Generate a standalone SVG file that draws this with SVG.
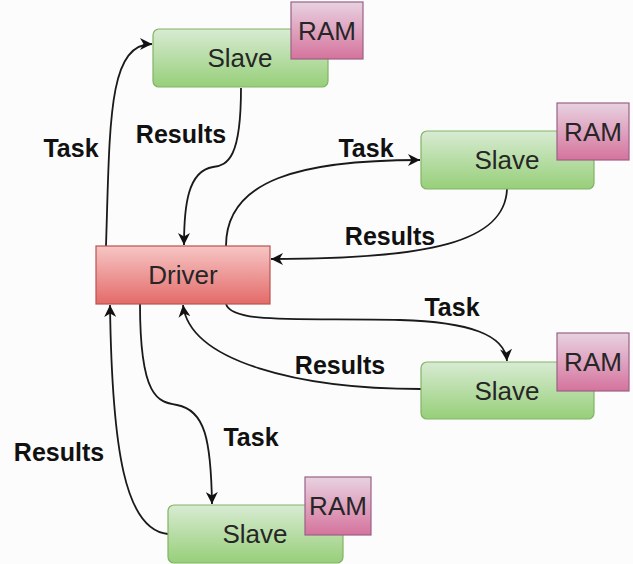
<svg xmlns="http://www.w3.org/2000/svg" width="633" height="564" viewBox="0 0 633 564">
  <defs>
    <linearGradient id="gSlave" x1="0" y1="0" x2="0" y2="1">
      <stop offset="0" stop-color="#d8ebd3"/>
      <stop offset="1" stop-color="#97cf79"/>
    </linearGradient>
    <linearGradient id="gDriver" x1="0" y1="0" x2="0" y2="1">
      <stop offset="0" stop-color="#f6c6c5"/>
      <stop offset="1" stop-color="#e36b69"/>
    </linearGradient>
    <linearGradient id="gRam" x1="0" y1="0" x2="0" y2="1">
      <stop offset="0" stop-color="#e8d2e0"/>
      <stop offset="1" stop-color="#d5739d"/>
    </linearGradient>
    <marker id="arrow" markerUnits="userSpaceOnUse" markerWidth="14" markerHeight="12" refX="12" refY="6" orient="auto">
      <path d="M0,0 L12,6 L0,12 L3.5,6 Z" fill="#111"/>
    </marker>
  </defs>
  <style>
    .slave { fill: url(#gSlave); stroke: #82b366; stroke-width: 1.2; }
    .driver { fill: url(#gDriver); stroke: #b85450; stroke-width: 1.2; }
    .ram { fill: url(#gRam); stroke: #996185; stroke-width: 1.2; }
    .nodeText { font-family: "Liberation Sans", Arial, sans-serif; font-size: 26px; fill: #262626; text-anchor: middle; dominant-baseline: central; }
    .label { font-family: "Liberation Sans", Arial, sans-serif; font-size: 25px; font-weight: bold; fill: #111; text-anchor: middle; dominant-baseline: central; }
    .edge { fill: none; stroke: #1a1a1a; stroke-width: 1.8; marker-end: url(#arrow); }
  </style>

  <rect x="0" y="0" width="633" height="564" fill="#fcfcfc"/>

  <g id="connectors">
    <!-- driver -> top slave -->
    <path class="edge" d="M106,246 C110,120 108,44 152,44"/>
    <!-- top slave -> driver -->
    <path class="edge" d="M241,88 C241,158 228,165 213,167 C188,171 184,205 184,245"/>
    <!-- driver -> right slave -->
    <path class="edge" d="M226,246 C226,180 300,160 420,160"/>
    <!-- right slave -> driver -->
    <path class="edge" d="M507,189 C505,242 430,259 271,259"/>
    <!-- driver -> middle-right slave -->
    <path class="edge" d="M226,304 C232,324 300,318 400,320 C470,322 505,335 507,361"/>
    <!-- middle-right slave -> driver -->
    <path class="edge" d="M421,389 C300,389 190,362 183,305"/>
    <!-- driver -> bottom slave -->
    <path class="edge" d="M140,304 C140,398 158,402 177,405 C205,410 211,440 212,504"/>
    <!-- bottom slave -> driver -->
    <path class="edge" d="M168,534 C125,530 112,450 110,305"/>

    <text class="label" x="71" y="148">Task</text>
    <text class="label" x="181" y="134">Results</text>
    <text class="label" x="366" y="148">Task</text>
    <text class="label" x="390" y="236">Results</text>
    <text class="label" x="452" y="307">Task</text>
    <text class="label" x="340" y="365">Results</text>
    <text class="label" x="251" y="437">Task</text>
    <text class="label" x="59" y="452">Results</text>
  </g>

  <g id="driver">
    <rect class="driver" x="96" y="246" width="174" height="58"/>
    <text class="nodeText" x="183" y="275">Driver</text>
  </g>

  <g id="slave-top">
    <rect class="slave" x="153" y="29" width="175" height="58" rx="6"/>
    <text class="nodeText" x="240" y="58">Slave</text>
    <rect class="ram" x="291" y="2" width="72" height="57"/>
    <text class="nodeText" x="327" y="31">RAM</text>
  </g>

  <g id="slave-right">
    <rect class="slave" x="421" y="131" width="173" height="58" rx="6"/>
    <text class="nodeText" x="507" y="160">Slave</text>
    <rect class="ram" x="557" y="103" width="72" height="57"/>
    <text class="nodeText" x="593" y="132">RAM</text>
  </g>

  <g id="slave-lower-right">
    <rect class="slave" x="421" y="362" width="173" height="57" rx="6"/>
    <text class="nodeText" x="507" y="391">Slave</text>
    <rect class="ram" x="557" y="333" width="72" height="58"/>
    <text class="nodeText" x="593" y="362">RAM</text>
  </g>

  <g id="slave-bottom">
    <rect class="slave" x="168" y="505" width="175" height="58" rx="6"/>
    <text class="nodeText" x="255" y="534">Slave</text>
    <rect class="ram" x="305" y="477" width="66" height="58"/>
    <text class="nodeText" x="338" y="506">RAM</text>
  </g>
</svg>
